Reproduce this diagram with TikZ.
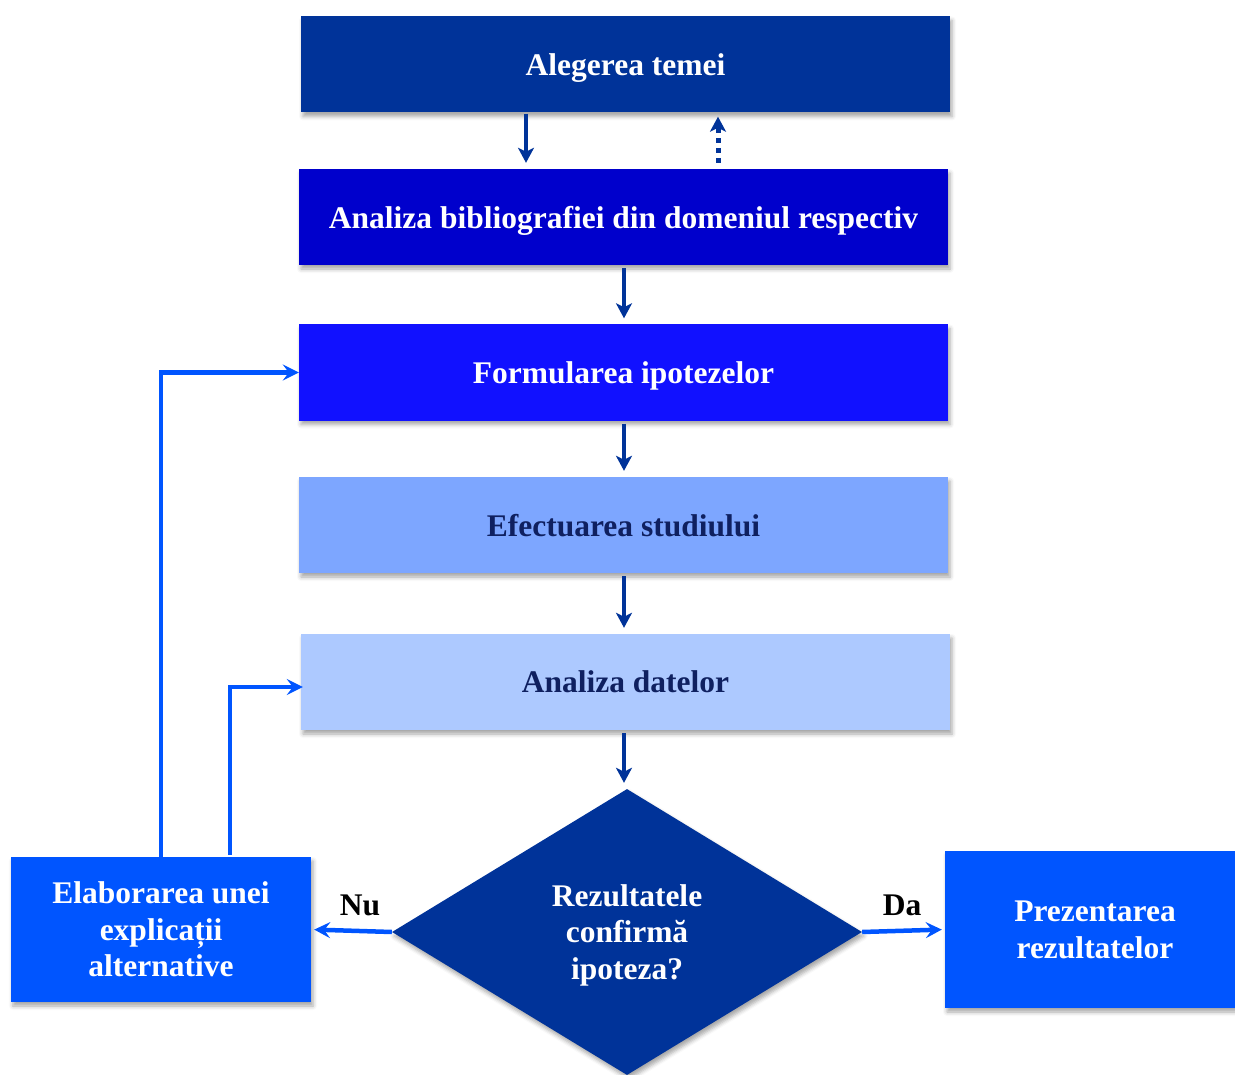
\documentclass[tikz,border=0pt]{standalone}
\usepackage{fontspec}
\setmainfont{Liberation Serif}
\usetikzlibrary{arrows.meta,shapes.geometric,shadows.blur}
\definecolor{navy}{RGB}{0,51,153}
\definecolor{deepblue}{RGB}{0,0,204}
\definecolor{royal}{RGB}{17,17,255}
\definecolor{midblue}{RGB}{125,166,255}
\definecolor{paleblue}{RGB}{173,201,255}
\definecolor{bright}{RGB}{0,85,255}
\definecolor{darktext}{RGB}{15,32,96}
\tikzset{
  txt/.style={font=\fontsize{31.5}{36.5}\selectfont\bfseries, align=center},
  box/.style={txt, rectangle, inner sep=0pt, text=white, text depth=0pt,
    blur shadow={shadow xshift=2pt, shadow yshift=-4pt, shadow blur radius=4pt, shadow opacity=35}},
  wide/.style={box, minimum width=649pt, minimum height=96pt},
  darr/.style={draw=navy, line width=3.5pt, -{Stealth[length=15pt,width=16pt,inset=4pt]}},
  dotarr/.style={draw=navy, line width=5pt, dash pattern=on 5pt off 5pt, -{Stealth[length=15pt,width=16pt,inset=4pt]}},
  barr/.style={draw=bright, line width=4.5pt, -{Stealth[length=16pt,width=16pt,inset=6pt]}},
  lbl/.style={txt, text=black}
}
\begin{document}
\begin{tikzpicture}[x=1pt,y=-1pt]
\useasboundingbox (0,0) rectangle (1235,1075);
\node[wide, fill=navy] (t1) at (625.5,64.5) {Alegerea temei};
\node[wide, fill=deepblue] (t2) at (623.5,217) {Analiza bibliografiei din domeniul respectiv};
\node[wide, fill=royal] (t3) at (623.5,372.5) {Formularea ipotezelor};
\node[wide, fill=midblue, text=darktext] (t4) at (623.5,525) {Efectuarea studiului};
\node[wide, fill=paleblue, text=darktext] (t5) at (625.5,682) {Analiza datelor};
\node[box, diamond, fill=navy, minimum width=470pt, minimum height=286pt] (dia) at (627,932) {Rezultatele\\confirmă\\ipoteza?};
\node[box, fill=bright, minimum width=300pt, minimum height=145pt] (elab) at (161,929.5) {Elaborarea unei\\explicații\\alternative};
\node[box, fill=bright, minimum width=300pt, minimum height=157pt] (prez) at (1095,929.5) {Prezentarea\\rezultatelor};

\draw[darr, shorten <=1pt, shorten >=6pt] (t1.south -| 526,0) -- (t2.north -| 526,0);
\draw[dotarr, shorten <=6pt, shorten >=4pt] (t2.north -| 718,0) -- (t1.south -| 718,0);
\draw[darr, shorten <=3pt, shorten >=6pt] (t2.south -| 624,0) -- (t3.north -| 624,0);
\draw[darr, shorten <=3pt, shorten >=6pt] (t3.south -| 624,0) -- (t4.north -| 624,0);
\draw[darr, shorten <=3pt, shorten >=6pt] (t4.south -| 624,0) -- (t5.north -| 624,0);
\draw[darr, shorten <=3pt, shorten >=6pt] (t5.south -| 624,0) -- (dia.north -| 624,0);

\draw[barr, shorten >=3pt] (dia.west) -- (elab.east);
\draw[barr, shorten >=3pt] (dia.east) -- (prez.west);
\node[lbl] (nu) at (360,905) {Nu};
\node[lbl] (da) at (902,905) {Da};

\draw[barr, shorten >=0pt] (elab.north) |- (t3.west);
\draw[barr, shorten >=-2pt] ([xshift=69pt,yshift=2pt]elab.north) |- ([yshift=-5pt]t5.west);
\end{tikzpicture}
\end{document}
